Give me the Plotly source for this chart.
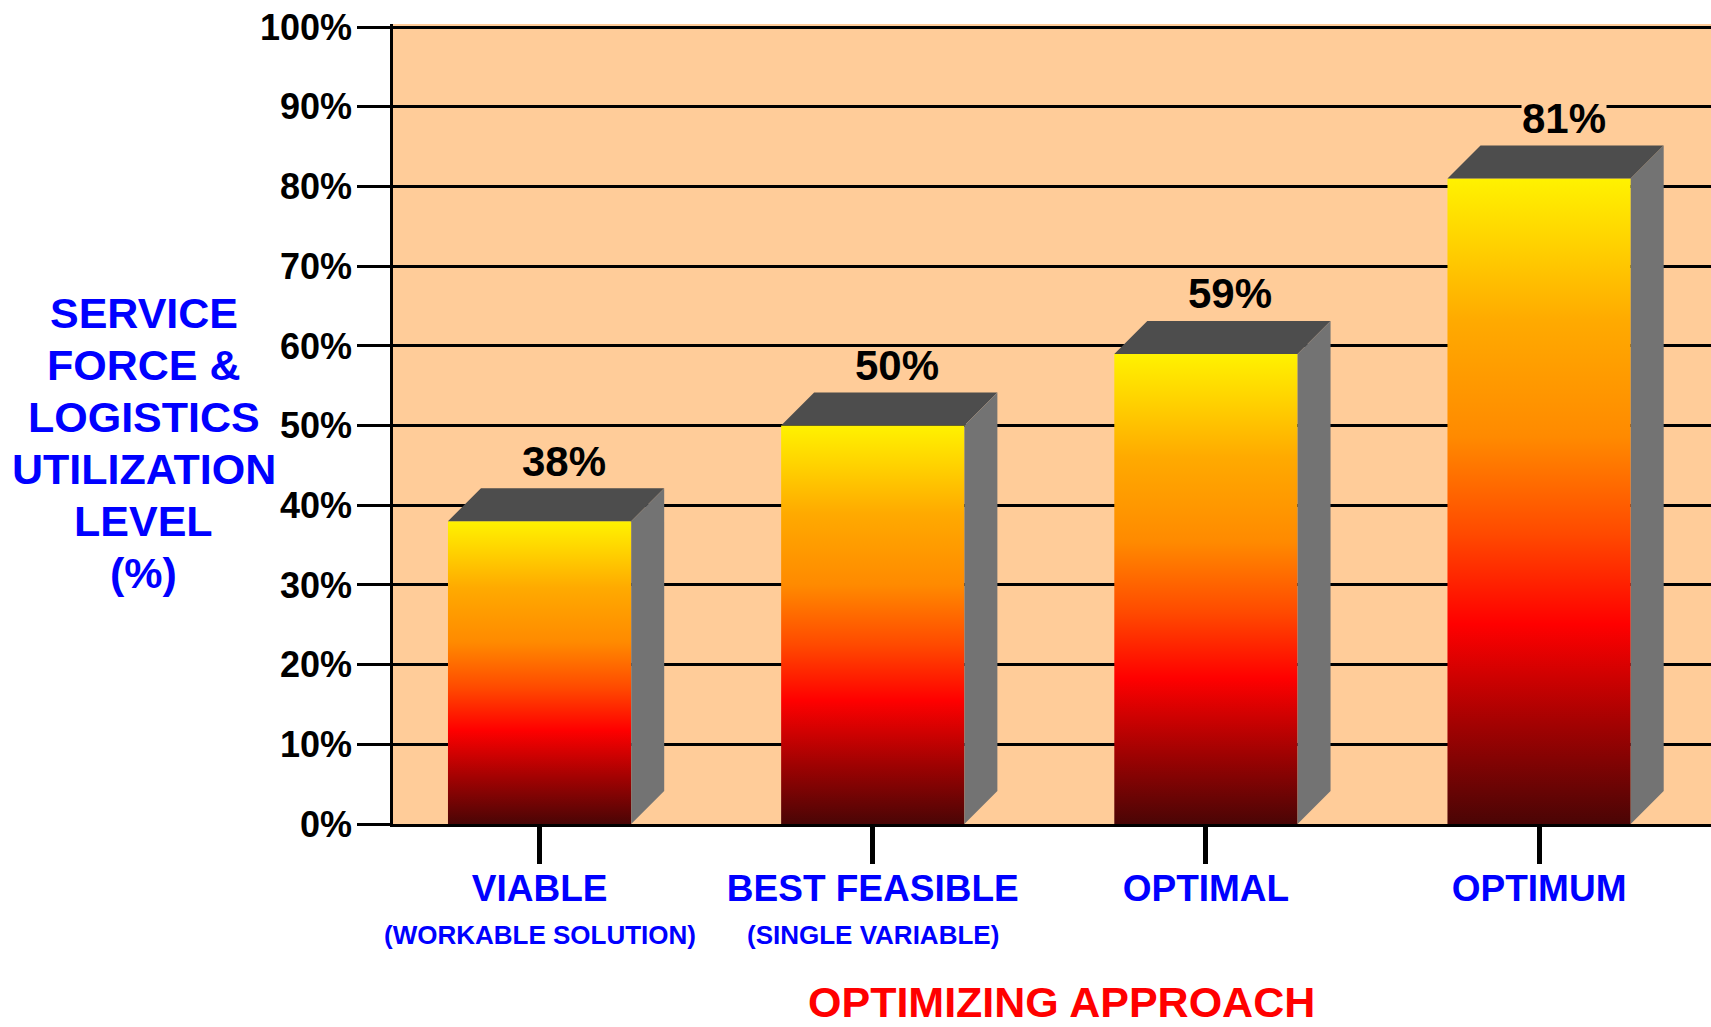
import plotly.graph_objects as go

# ---- data -------------------------------------------------------------
categories = ["VIABLE", "BEST FEASIBLE", "OPTIMAL", "OPTIMUM"]
subtitles = ["(WORKABLE SOLUTION)", "(SINGLE VARIABLE)", "", ""]
utilization = [38, 50, 59, 81]          # percent
y_tick_values = list(range(0, 101, 10))
y_title_lines = ["SERVICE", "FORCE &", "LOGISTICS", "UTILIZATION", "LEVEL", "(%)"]

# ---- layout geometry ----------------------------------------------------
FIG_W, FIG_H = 1711, 1027
M_L, M_R, M_T, M_B = 393, 0, 24, 203
X_RANGE = [-0.44, 3.516]
Y_RANGE = [0, 100.4]
PLOT_W = FIG_W - M_L - M_R
PLOT_H = FIG_H - M_T - M_B

BAR_W = 0.55            # front face width in category units
DEPTH_PX = 33           # pseudo-3D extrusion depth in pixels
dx = DEPTH_PX * (X_RANGE[1] - X_RANGE[0]) / PLOT_W
dy = DEPTH_PX * (Y_RANGE[1] - Y_RANGE[0]) / PLOT_H

PEACH = "#FFCC99"
BLUE = "#0000FF"
RED = "#FF0000"
TOP_GREY = "#4D4D4D"
SIDE_GREY = "#737373"
FONT = "Liberation Sans, Arial, sans-serif"

# bottom (0) -> top (1): dark maroon, red, orange, yellow
GRADIENT = [
    [0.00, "#4A0505"],
    [0.15, "#A00202"],
    [0.31, "#FF0000"],
    [0.45, "#FF4A00"],
    [0.60, "#FF8A00"],
    [0.78, "#FFAA00"],
    [0.90, "#FFD200"],
    [1.00, "#FFF200"],
]

fig = go.Figure()

for i, (cat, val) in enumerate(zip(categories, utilization)):
    x0, x1 = i - BAR_W / 2, i + BAR_W / 2
    # front face with vertical gradient
    fig.add_trace(go.Scatter(
        x=[x0, x1, x1, x0, x0], y=[0, 0, val, val, 0],
        mode="lines", line=dict(width=0), fill="toself",
        fillgradient=dict(type="vertical", colorscale=GRADIENT,
                          start=0, stop=val),
        hoverinfo="skip", showlegend=False,
    ))
    # top face
    fig.add_trace(go.Scatter(
        x=[x0, x1, x1 + dx, x0 + dx, x0],
        y=[val, val, val + dy, val + dy, val],
        mode="lines", line=dict(width=0), fill="toself",
        fillcolor=TOP_GREY, hoverinfo="skip", showlegend=False,
    ))
    # right side face
    fig.add_trace(go.Scatter(
        x=[x1, x1 + dx, x1 + dx, x1, x1],
        y=[0, dy, val + dy, val, 0],
        mode="lines", line=dict(width=0), fill="toself",
        fillcolor=SIDE_GREY, hoverinfo="skip", showlegend=False,
    ))

annotations = []

# value labels above each bar; mask a gridline that would run through the text
px_per_unit = PLOT_H / (Y_RANGE[1] - Y_RANGE[0])
LABEL_SIZE = 42
LABEL_LIFT = 27
for i, val in enumerate(utilization):
    label_center = (val + dy) * px_per_unit + LABEL_LIFT
    crosses = any(abs(t * px_per_unit - label_center) < LABEL_SIZE * 0.45
                  for t in y_tick_values)
    annotations.append(dict(
        x=i + dx / 2, y=val + dy, xref="x", yref="y",
        text=f"{val}%", showarrow=False,
        xanchor="center", yanchor="middle", xshift=8, yshift=LABEL_LIFT,
        font=dict(family=FONT, size=LABEL_SIZE, color="black", weight="bold"),
        bgcolor=PEACH if crosses else None, borderpad=0,
    ))

# secondary category captions
for i, sub in enumerate(subtitles):
    if sub:
        annotations.append(dict(
            x=i, y=-0.139, xref="x", yref="paper", text=sub,
            showarrow=False, xanchor="center", yanchor="middle",
            font=dict(family=FONT, size=26, color=BLUE, weight="bold"),
        ))

# y-axis title block, one line per annotation for a tight line pitch
TITLE_CENTER_PX = 443          # vertical centre of the block (page pixels)
TITLE_PITCH_PX = 52
n_lines = len(y_title_lines)
for k, line in enumerate(y_title_lines):
    y_px = TITLE_CENTER_PX + (k - (n_lines - 1) / 2) * TITLE_PITCH_PX
    annotations.append(dict(
        x=-0.189, y=(FIG_H - M_B - y_px) / PLOT_H,
        xref="paper", yref="paper", text=line,
        showarrow=False, xanchor="center", yanchor="middle",
        font=dict(family=FONT, size=43, color=BLUE, weight="bold"),
    ))

# x-axis title
annotations.append(dict(
    x=(1061 - M_L) / PLOT_W, y=-0.222, xref="paper", yref="paper",
    text="OPTIMIZING APPROACH", showarrow=False,
    xanchor="center", yanchor="middle",
    font=dict(family=FONT, size=43, color=RED, weight="bold"),
))

fig.update_layout(
    width=FIG_W, height=FIG_H,
    margin=dict(l=M_L, r=M_R, t=M_T, b=M_B, autoexpand=False),
    paper_bgcolor="white", plot_bgcolor=PEACH,
    showlegend=False,
    annotations=annotations,
    xaxis=dict(
        range=X_RANGE, tickmode="array",
        tickvals=list(range(len(categories))), ticktext=categories,
        showgrid=False, zeroline=False,
        showline=True, linecolor="black", linewidth=2.5,
        ticks="outside", ticklen=37, tickwidth=5, tickcolor="black",
        ticklabelstandoff=-7,
        tickfont=dict(family=FONT, size=37, color=BLUE, weight="bold"),
    ),
    yaxis=dict(
        range=Y_RANGE, tickmode="array", tickvals=y_tick_values,
        ticktext=[f"{v}%" for v in y_tick_values],
        showgrid=True, gridcolor="black", gridwidth=2.5,
        zeroline=False,
        showline=True, linecolor="black", linewidth=2.5,
        ticks="outside", ticklen=33, tickwidth=2.5, tickcolor="black",
        ticklabelstandoff=-2,
        tickfont=dict(family=FONT, size=36, color="black", weight="bold"),
    ),
)

fig.write_html("out.html")
